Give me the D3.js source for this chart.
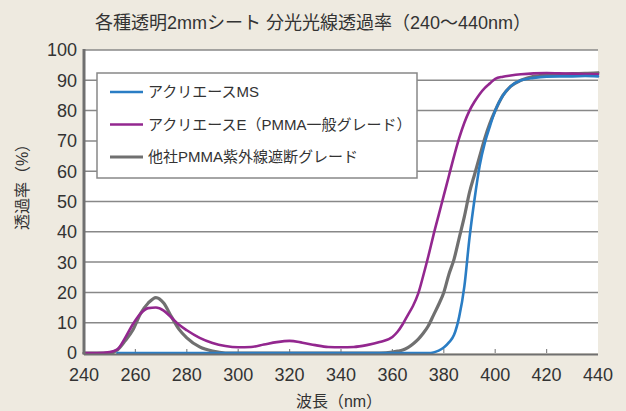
<!DOCTYPE html>
<html lang="ja">
<head>
<meta charset="utf-8">
<script src="https://d3js.org/d3.v7.min.js"></script>
<style>
  body { margin: 0; background: #eeeae0; }
  svg { display: block; font-family: "Liberation Sans", "Noto Sans CJK JP", sans-serif; }
  .tick-label { font-size: 18px; fill: #333; }
</style>
</head>
<body>
<svg width="626" height="411"></svg>
<script>
// wavelengths (nm)
var wavelengths = [240,245,250,253,256,259,262,265,268,271,274,277,280,285,290,295,300,305,310,315,320,325,330,335,340,345,350,355,360,362,364,366,368,370,372,374,376,378,380,382,384,386,388,390,392,394,396,398,400,403,406,410,415,420,425,430,435,440];

// transmittance (%)
var acryMS = [null,null,null,0,0,0,0,0,0,0,0,0,0,0,0,0,0,0,0,0,0,0,0,0,0,0,0,0,0,0,0,0,0,0,0,0,0.2,0.8,1.8,3.5,6,12,22,38,51,62,69.5,75,80,85,88,90,90.8,91.2,91.3,91.3,91.4,91.3];
var acryE = [0,0,0.3,1.2,5,9.5,13,14.8,15,14,11.7,9.3,7.5,5,3.3,2.3,1.9,2,2.8,3.6,4,3.4,2.6,2,1.9,2,2.6,3.6,5.3,7,9.5,12.5,15.5,19.5,25.5,32,39,45.5,52,58.5,65,71,76,80,83,85.5,87.5,89,90.5,91.2,91.6,92,92.3,92.4,92.3,92.2,92.1,92];
var otherPMMA = [0,0,0,1,4,7.6,13,16.5,18.3,16.5,12,7.8,5,2,0.6,0,0,0,0,0,0,0,0,0,0,0,0,0,0.3,0.6,1,1.8,3,4.5,6.5,9,12.5,16,20,26,31,38,45,53,59,65,71,76,80,85,88,90,91.3,91.8,92,92.2,92.3,92.5];

var seriesNames = ["アクリエースMS", "アクリエースE（PMMA一般グレード）", "他社PMMA紫外線遮断グレード"];
var seriesColors = ["#2a7dc4", "#93278f", "#707070"];
var xTicks = [240,260,280,300,320,340,360,380,400,420,440];
var yTicks = [0,10,20,30,40,50,60,70,80,90,100];

var svg = d3.select("svg");
var x = d3.scaleLinear().domain([240, 440]).range([84, 598]);
var y = d3.scaleLinear().domain([0, 100]).range([353, 50]);

// plot area
svg.append("rect")
    .attr("x", x(240)).attr("y", y(100))
    .attr("width", x(440) - x(240)).attr("height", y(0) - y(100))
    .attr("fill", "#fff");

// gridlines
svg.append("g").selectAll("line")
    .data(yTicks.slice(1))
  .enter().append("line")
    .attr("x1", x(240)).attr("x2", x(440))
    .attr("y1", function(d) { return y(d); })
    .attr("y2", function(d) { return y(d); })
    .attr("stroke", "#888").attr("stroke-width", 1.5);

// x ticks (small, upward)
svg.append("g").selectAll("line")
    .data(xTicks.slice(1, -1))
  .enter().append("line")
    .attr("x1", function(d) { return x(d); })
    .attr("x2", function(d) { return x(d); })
    .attr("y1", y(0)).attr("y2", y(0) - 4)
    .attr("stroke", "#888").attr("stroke-width", 1.2);

// tick labels
svg.append("g").selectAll("text")
    .data(yTicks)
  .enter().append("text")
    .attr("class", "tick-label")
    .attr("x", 77)
    .attr("y", function(d) { return y(d); })
    .attr("dy", "0.36em")
    .attr("text-anchor", "end")
    .text(function(d) { return d; });

svg.append("g").selectAll("text")
    .data(xTicks)
  .enter().append("text")
    .attr("class", "tick-label")
    .attr("x", function(d) { return x(d); })
    .attr("y", 381)
    .attr("text-anchor", "middle")
    .text(function(d) { return d; });

// curves
var cols = [acryMS, acryE, otherPMMA];
var line = d3.line()
    .defined(function(d) { return d[1] != null; })
    .x(function(d) { return x(d[0]); })
    .y(function(d) { return y(d[1]); })
    .curve(d3.curveMonotoneX);

[2, 1, 0].forEach(function(i) {
  var pts = wavelengths.map(function(w, j) { return [w, cols[i][j]]; });
  svg.append("path")
      .datum(pts)
      .attr("d", line)
      .attr("fill", "none")
      .attr("stroke", seriesColors[i])
      .attr("stroke-width", i == 2 ? 3.2 : 2.6)
      .attr("stroke-linejoin", "round")
      .attr("stroke-linecap", "round");
});

// axes
svg.append("line")
    .attr("x1", x(240)).attr("x2", x(240))
    .attr("y1", y(100) - 1).attr("y2", y(0) + 1.5)
    .attr("stroke", "#707070").attr("stroke-width", 3);
svg.append("line")
    .attr("x1", x(240)).attr("x2", x(440))
    .attr("y1", y(0) + 1.5).attr("y2", y(0) + 1.5)
    .attr("stroke", "#707070").attr("stroke-width", 2);

// legend
var lg = svg.append("g");
lg.append("rect")
    .attr("x", 97).attr("y", 73).attr("width", 320).attr("height", 105)
    .attr("fill", "#fff").attr("stroke", "#888").attr("stroke-width", 1.5);
var rowY = [92, 124.5, 157];
seriesNames.forEach(function(name, i) {
  lg.append("line")
      .attr("x1", 110).attr("x2", 143)
      .attr("y1", rowY[i]).attr("y2", rowY[i])
      .attr("stroke", seriesColors[i]).attr("stroke-width", i == 2 ? 3.2 : 2.6);
  lg.append("text")
      .attr("x", 148).attr("y", rowY[i]).attr("dy", "0.36em")
      .attr("font-size", 15).attr("fill", "#333")
      .text(name);
});

// titles
svg.append("text")
    .attr("x", 313).attr("y", 29)
    .attr("text-anchor", "middle")
    .attr("font-size", 18).attr("fill", "#333")
    .text("各種透明2mmシート 分光光線透過率（240～440nm）");

svg.append("text")
    .attr("transform", "translate(28,183) rotate(-90)")
    .attr("text-anchor", "middle")
    .attr("font-size", 16).attr("fill", "#333")
    .text("透過率（%）");

svg.append("text")
    .attr("x", 339).attr("y", 407)
    .attr("text-anchor", "middle")
    .attr("font-size", 16).attr("fill", "#333")
    .text("波長（nm）");
</script>
</body>
</html>
